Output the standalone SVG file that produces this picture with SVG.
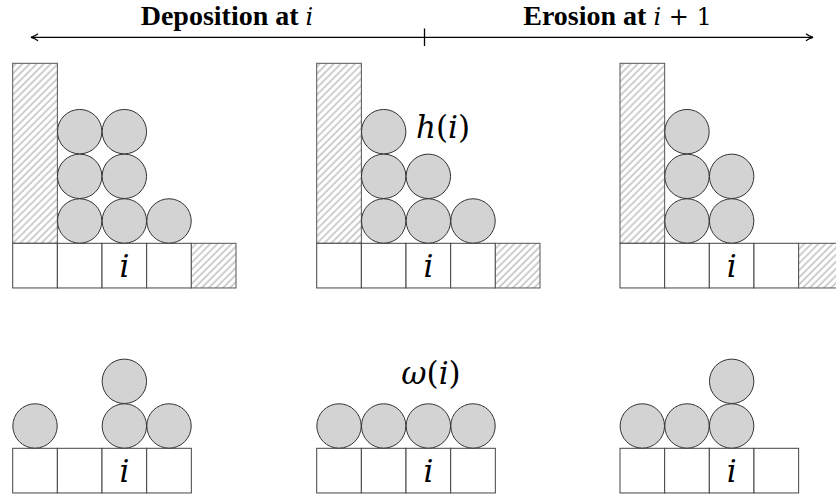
<svg xmlns="http://www.w3.org/2000/svg" width="836" height="495" viewBox="0 0 836 495">
<style>
.cell{fill:#fff;stroke:#444;stroke-width:1}
.wall{fill:url(#hatch);stroke:#555;stroke-width:1}
.ball{fill:#d3d3d3;stroke:#333;stroke-width:1}
.axis{stroke:#000;stroke-width:1.3;fill:none}
</style>
<defs>
<pattern id="hatch" patternUnits="userSpaceOnUse" width="5" height="5" patternTransform="rotate(45)">
<rect width="5" height="5" fill="#fff"/>
<line x1="1.2" y1="0" x2="1.2" y2="5" stroke="#c4c4c4" stroke-width="1.6"/>
</pattern>
<marker id="tip" viewBox="0 0 10 10" refX="9" refY="5" markerWidth="10" markerHeight="10" markerUnits="userSpaceOnUse" orient="auto-start-reverse">
<path d="M2,1.5 Q5,4 9,5 Q5,6 2,8.5" fill="none" stroke="#000" stroke-width="1.2"/>
</marker>
</defs>
<rect width="836" height="495" fill="#fff"/>

<g id="connectors">
<line class="axis" x1="31" y1="37.3" x2="813" y2="37.3" marker-start="url(#tip)" marker-end="url(#tip)"/>
<line class="axis" x1="424.5" y1="28.5" x2="424.5" y2="46"/>
</g>

<g id="titles" font-family="Liberation Serif, serif" font-size="28" font-weight="bold" fill="#000">
<text x="227" y="25" text-anchor="middle">Deposition at <tspan font-family="DejaVu Serif, serif" font-style="italic" font-weight="normal" font-size="24">i</tspan></text>
<text x="617.5" y="25" text-anchor="middle">Erosion at <tspan font-family="DejaVu Serif, serif" font-style="italic" font-weight="normal" font-size="24">i</tspan><tspan font-family="DejaVu Serif, serif" font-weight="normal" font-size="24"> + 1</tspan></text>
</g>

<g id="panel-top-1">
<rect class="wall" x="12.7" y="63.3" width="44.66" height="180"/>
<rect class="cell" x="12.7" y="243.3" width="44.66" height="44.66"/>
<rect class="cell" x="57.36" y="243.3" width="44.66" height="44.66"/>
<rect class="cell" x="102.02" y="243.3" width="44.66" height="44.66"/>
<rect class="cell" x="146.68" y="243.3" width="44.66" height="44.66"/>
<rect class="wall" x="191.34" y="243.3" width="44.66" height="44.66"/>
<circle class="ball" cx="79.69" cy="220.97" r="22.2"/>
<circle class="ball" cx="79.69" cy="176.31" r="22.2"/>
<circle class="ball" cx="79.69" cy="131.65" r="22.2"/>
<circle class="ball" cx="124.35" cy="220.97" r="22.2"/>
<circle class="ball" cx="124.35" cy="176.31" r="22.2"/>
<circle class="ball" cx="124.35" cy="131.65" r="22.2"/>
<circle class="ball" cx="169.01" cy="220.97" r="22.2"/>
<text x="124.35" y="276.5" text-anchor="middle" font-family="DejaVu Serif, serif" font-style="italic" font-size="31">i</text>
</g>

<g id="panel-top-2">
<rect class="wall" x="316.7" y="63.3" width="44.66" height="180"/>
<rect class="cell" x="316.7" y="243.3" width="44.66" height="44.66"/>
<rect class="cell" x="361.36" y="243.3" width="44.66" height="44.66"/>
<rect class="cell" x="406.02" y="243.3" width="44.66" height="44.66"/>
<rect class="cell" x="450.68" y="243.3" width="44.66" height="44.66"/>
<rect class="wall" x="495.34" y="243.3" width="44.66" height="44.66"/>
<circle class="ball" cx="383.69" cy="220.97" r="22.2"/>
<circle class="ball" cx="383.69" cy="176.31" r="22.2"/>
<circle class="ball" cx="383.69" cy="131.65" r="22.2"/>
<circle class="ball" cx="428.35" cy="220.97" r="22.2"/>
<circle class="ball" cx="428.35" cy="176.31" r="22.2"/>
<circle class="ball" cx="473.01" cy="220.97" r="22.2"/>
<text x="428.35" y="276.5" text-anchor="middle" font-family="DejaVu Serif, serif" font-style="italic" font-size="31">i</text>
<text x="416" y="137.5" font-family="DejaVu Serif, serif" font-size="31"><tspan font-style="italic">h</tspan>(<tspan font-style="italic">i</tspan>)</text>
</g>

<g id="panel-top-3">
<rect class="wall" x="620" y="63.3" width="44.66" height="180"/>
<rect class="cell" x="620" y="243.3" width="44.66" height="44.66"/>
<rect class="cell" x="664.66" y="243.3" width="44.66" height="44.66"/>
<rect class="cell" x="709.32" y="243.3" width="44.66" height="44.66"/>
<rect class="cell" x="753.98" y="243.3" width="44.66" height="44.66"/>
<rect class="wall" x="798.64" y="243.3" width="44.66" height="44.66"/>
<circle class="ball" cx="686.99" cy="220.97" r="22.2"/>
<circle class="ball" cx="686.99" cy="176.31" r="22.2"/>
<circle class="ball" cx="686.99" cy="131.65" r="22.2"/>
<circle class="ball" cx="731.65" cy="220.97" r="22.2"/>
<circle class="ball" cx="731.65" cy="176.31" r="22.2"/>
<text x="731.65" y="276.5" text-anchor="middle" font-family="DejaVu Serif, serif" font-style="italic" font-size="31">i</text>
</g>

<g id="panel-bottom-1">
<rect class="cell" x="12.7" y="448.3" width="44.66" height="44.66"/>
<rect class="cell" x="57.36" y="448.3" width="44.66" height="44.66"/>
<rect class="cell" x="102.02" y="448.3" width="44.66" height="44.66"/>
<rect class="cell" x="146.68" y="448.3" width="44.66" height="44.66"/>
<circle class="ball" cx="35.03" cy="425.97" r="22.2"/>
<circle class="ball" cx="124.35" cy="425.97" r="22.2"/>
<circle class="ball" cx="124.35" cy="381.31" r="22.2"/>
<circle class="ball" cx="169.01" cy="425.97" r="22.2"/>
<text x="124.35" y="481.5" text-anchor="middle" font-family="DejaVu Serif, serif" font-style="italic" font-size="31">i</text>
</g>

<g id="panel-bottom-2">
<rect class="cell" x="316.7" y="448.3" width="44.66" height="44.66"/>
<rect class="cell" x="361.36" y="448.3" width="44.66" height="44.66"/>
<rect class="cell" x="406.02" y="448.3" width="44.66" height="44.66"/>
<rect class="cell" x="450.68" y="448.3" width="44.66" height="44.66"/>
<circle class="ball" cx="339.03" cy="425.97" r="22.2"/>
<circle class="ball" cx="383.69" cy="425.97" r="22.2"/>
<circle class="ball" cx="428.35" cy="425.97" r="22.2"/>
<circle class="ball" cx="473.01" cy="425.97" r="22.2"/>
<text x="428.35" y="481.5" text-anchor="middle" font-family="DejaVu Serif, serif" font-style="italic" font-size="31">i</text>
<text x="431" y="384" text-anchor="middle" font-family="DejaVu Serif, serif" font-size="31"><tspan font-style="italic">ω</tspan>(<tspan font-style="italic">i</tspan>)</text>
</g>

<g id="panel-bottom-3">
<rect class="cell" x="620" y="448.3" width="44.66" height="44.66"/>
<rect class="cell" x="664.66" y="448.3" width="44.66" height="44.66"/>
<rect class="cell" x="709.32" y="448.3" width="44.66" height="44.66"/>
<rect class="cell" x="753.98" y="448.3" width="44.66" height="44.66"/>
<circle class="ball" cx="642.33" cy="425.97" r="22.2"/>
<circle class="ball" cx="686.99" cy="425.97" r="22.2"/>
<circle class="ball" cx="731.65" cy="425.97" r="22.2"/>
<circle class="ball" cx="731.65" cy="381.31" r="22.2"/>
<text x="731.65" y="481.5" text-anchor="middle" font-family="DejaVu Serif, serif" font-style="italic" font-size="31">i</text>
</g>
</svg>
